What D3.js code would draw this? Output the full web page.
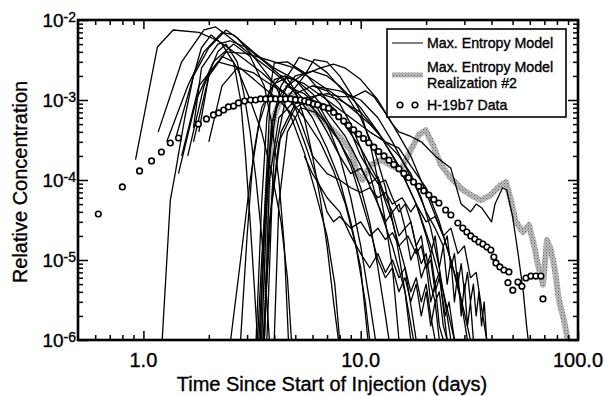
<!DOCTYPE html>
<html><head><meta charset="utf-8">
<script src="https://cdn.jsdelivr.net/npm/d3@7"></script>
<style>body{margin:0;background:#fff} text{font-family:"Liberation Sans",Arial,Helvetica,sans-serif;fill:#000;stroke:#000;stroke-width:0.35px}</style>
</head><body><svg id="c" width="604" height="396"></svg>
<script>
// H-19b7 measured data
const dataT = [0.62,0.80,0.96,1.09,1.21,1.33,1.45,1.79,1.95,2.10,2.22,2.34,2.46,2.60,2.74,2.92,3.11,3.28,3.46,3.65,3.85,4.06,4.28,4.51,4.76,5.01,5.29,5.52,5.76,6.07,6.34,6.75,7.12,7.51,7.92,8.35,8.80,9.28,9.79,10.3,10.9,11.5,12.1,12.8,13.5,14.2,15.0,15.8,16.6,17.5,18.5,19.5,20.6,21.7,22.9,24.6,26.0,28.0,29.5,30.8,32.1,33.5,35.0,36.5,38.1,39.7,41.0,41.9,43.7,45.6,48.1,47.6,50.1,52.9,55.2,57.6,60.7,64.0,67.5,69.0];
const dataC = [3.76e-5,8.2e-5,1.30e-4,1.73e-4,2.24e-4,2.9e-4,3.35e-4,5.0e-4,5.8e-4,6.5e-4,6.9e-4,7.5e-4,8.2e-4,8.4e-4,9.2e-4,9.7e-4,1.0e-3,1.0e-3,1.03e-3,1.03e-3,1.03e-3,1.03e-3,1.03e-3,1.03e-3,1.03e-3,1.01e-3,1.0e-3,9.7e-4,9.4e-4,8.9e-4,8.7e-4,8.2e-4,7.9e-4,7.0e-4,6.18e-4,5.45e-4,4.81e-4,4.24e-4,3.75e-4,3.30e-4,2.92e-4,2.57e-4,2.27e-4,2.00e-4,1.77e-4,1.56e-4,1.38e-4,1.21e-4,1.07e-4,9.44e-5,8.34e-5,7.35e-5,6.49e-5,5.72e-5,5.16e-5,4.22e-5,3.65e-5,2.90e-5,2.51e-5,2.24e-5,2.0e-5,1.83e-5,1.68e-5,1.58e-5,1.45e-5,1.33e-5,1.09e-5,9.2e-6,8.2e-6,7.5e-6,7.1e-6,5.2e-6,4.2e-6,5.3e-6,4.7e-6,5.96e-6,6.3e-6,6.3e-6,6.3e-6,3.26e-6];

// Max. Entropy Model, Realization #2 (gray band)
const realT = [3.53,3.61,3.73,3.85,4.01,4.28,4.76,5.29,5.88,6.54,7.27,8.09,8.99,9.69,10.2,11.1,12.4,13.7,15.3,17.0,18.5,19.9,21.5,23.4,26.0,28.9,32.1,35.7,39.7,44.2,46.6,49.1,51.8,55.8,59.5,62.7,65.4,69.0,72.0,75.1,78.3,81.7,86.1,89.9];
const realC = [1e-6,1e-5,7.5e-5,3.16e-4,6.5e-4,1e-3,1.15e-3,1e-3,7.9e-4,5.96e-4,4.47e-4,3.35e-4,2.37e-4,1.15e-4,1e-4,1.54e-4,1.78e-4,1.54e-4,1.33e-4,2.37e-4,3.65e-4,4.2e-4,2.74e-4,1.54e-4,1.06e-4,7.9e-5,6.5e-5,5.6e-5,6.5e-5,8.7e-5,9.4e-5,5.6e-5,3.0e-5,2.24e-5,2.74e-5,1.54e-5,8.7e-6,4.9e-6,1.78e-5,1.33e-5,7.5e-6,3.16e-6,1.78e-6,1e-6];

// Max. Entropy Model realizations: [time (days), relative concentration]
const run01 = [[0.92,1.8e-4],[1.16,4.6e-3],[1.37,7.5e-3],[1.8,7e-3],[2.2,5.5e-3],[2.8,3.5e-3],[3.5,2.2e-3],[4.5,1.2e-3],[5.5,6e-4],[6.5,3e-4],[7.5,1.3e-4],[8.5,5e-5],[9.5,1.5e-5],[10.5,3e-6],[11,1e-6]];
const run02 = [[1.17,4e-4],[1.5,3e-3],[1.9,7.5e-3],[2.15,8.2e-3],[2.5,6e-3],[3,4e-3],[4,2.2e-3],[5,1.3e-3],[6,8e-4],[7,5e-4],[8,3e-4],[9,1.7e-4],[10,8e-5],[11,3e-5],[12,8e-6],[13,2e-6],[13.5,1e-6]];
const run03 = [[1.28,3e-4],[1.6,1.5e-3],[1.9,4e-3],[2.3,7e-3],[2.6,6.5e-3],[3.2,4e-3],[4,2.5e-3],[5,1.8e-3],[6,1.2e-3],[7,7e-4],[8.5,3.5e-4],[10,1.5e-4],[12,5e-5],[14,1.5e-5],[16,4e-6],[17.5,1e-6]];
const run04 = [[1.42,3.6e-4],[1.7,2e-3],[2,4.5e-3],[2.4,7.5e-3],[2.7,6e-3],[3.3,3.2e-3],[4,1.6e-3],[4.8,6e-4],[5.5,2.2e-4],[6.2,7e-5],[7,2e-5],[7.6,5e-6],[8,1e-6]];
const run05 = [[1.7,4.5e-4],[1.85,2.5e-3],[2.2,5e-3],[2.5,5.5e-3],[3,4.5e-3],[3.6,3e-3],[4.3,2e-3],[5,1.2e-3],[6,6e-4],[7,2.5e-4],[8,1e-4],[9,3e-5],[10,8e-6],[10.8,1e-6]];
const run06 = [[1.45,1.2e-4],[1.75,1e-3],[2.1,3e-3],[2.6,5e-3],[3.1,3.5e-3],[3.6,1.5e-3],[3.9,5e-4],[4.2,1e-4],[4.45,1.5e-5],[4.65,1e-6]];
const run07 = [[1.6,2e-4],[1.9,1.5e-3],[2.2,4e-3],[2.4,5e-3],[2.7,3e-3],[2.9,1.2e-3],[3.1,4e-4],[3.3,1e-4],[3.5,2e-5],[3.7,3e-6],[3.8,1e-6]];
const run08 = [[1.22,1e-6],[1.33,5.6e-5],[1.4,1.2e-4],[1.55,6e-4],[1.7,2e-3],[1.85,4.5e-3],[2.05,6.5e-3],[2.3,5e-3],[2.7,2.5e-3],[3.1,1e-3],[3.5,4e-4],[3.9,1.2e-4],[4.3,3e-5],[4.6,6e-6],[4.8,1e-6]];
const run09 = [[1.8,4e-4],[2.0,2e-3],[2.3,3.5e-3],[2.6,3e-3],[2.8,1e-3],[2.95,2e-4],[3.1,3e-5],[3.25,4e-6],[3.35,1e-6]];
const run10 = [[3.35,1e-6],[3.5,1e-5],[3.7,1e-4],[3.9,5e-4],[4.3,1.2e-3],[5,2e-3],[6,2.3e-3],[7,2e-3],[8,1.5e-3],[10,8e-4],[12,4e-4],[15,1.5e-4],[18,5e-5],[21,1.5e-5],[24,4e-6],[27,1e-6]];
const run11 = [[3.4,1e-6],[3.6,2e-5],[3.8,2e-4],[4.1,8e-4],[4.6,1.5e-3],[5.3,2e-3],[6.5,2.5e-3],[7.5,2.8e-3],[8.5,2.5e-3],[10,1.8e-3],[12,1e-3],[14,5e-4],[17,2e-4],[20,7e-5],[24,2e-5],[28,5e-6],[32,1e-6]];
const run12 = [[3.45,1e-6],[3.6,3e-5],[3.75,3e-4],[3.85,1.5e-3],[4.0,2.9e-3],[4.6,3e-3],[5.5,2.2e-3],[6.5,1.3e-3],[8,6e-4],[10,2.5e-4],[12,1e-4],[14,3e-5],[16,8e-6],[18,1e-6]];
const run13 = [[3.5,1e-6],[3.7,5e-5],[3.9,5e-4],[4.3,1.5e-3],[4.9,2.6e-3],[5.2,3.4e-3],[6,3e-3],[7,2.2e-3],[8.5,1.2e-3],[10,6e-4],[11.5,2.5e-4],[13,8e-5],[14.5,2e-5],[16,4e-6],[17,1e-6]];
const run14 = [[3.3,1e-6],[3.5,5e-5],[3.7,6e-4],[4,1.8e-3],[4.5,2e-3],[5,1.3e-3],[5.5,6e-4],[6,2e-4],[6.5,6e-5],[7,1.5e-5],[7.5,3e-6],[7.9,1e-6]];
const run15 = [[3.55,1e-6],[3.75,1e-5],[4,2e-4],[4.5,1e-3],[5.5,2e-3],[6.1,3.2e-3],[7,3e-3],[8,2e-3],[9,1.2e-3],[10,7e-4],[11,3e-4],[12,1e-4],[13,3e-5],[14,8e-6],[15,1e-6]];
const run16 = [[2.52,1e-6],[2.8,1e-5],[3.1,1e-4],[3.4,5e-4],[3.8,1.3e-3],[4.3,2e-3],[5,1.8e-3],[6,1e-3],[7,5e-4],[8,2e-4],[9,6e-5],[10,1.5e-5],[11,3e-6],[11.7,1e-6]];
const run17 = [[3.6,1e-6],[3.8,1e-4],[4.2,6e-4],[5,1e-3],[6,1.1e-3],[7,1.2e-3],[8,1.1e-3],[9.3,1.1e-3],[10.5,1.3e-3],[11.5,1.1e-3],[12.5,8e-4],[14,5e-4],[15,4e-4],[17,3.5e-4],[19,3e-4],[22,2e-4],[26,1.4e-4],[29,5e-5],[32,4e-5],[34,5e-5],[36,4.5e-5],[40,3e-5],[41.5,5e-5],[45,8e-5],[47,7.5e-5],[50,3.5e-5],[53,1.2e-5],[56,4e-6],[58,1.5e-6],[59,1e-6]];
const run18 = [[1.5,2e-4],[1.8,1.5e-3],[2.2,3e-3],[2.8,2.5e-3],[3.5,1.5e-3],[4.2,1e-3],[5,6e-4],[5.5,3e-4],[6,1.5e-4],[6.5,8e-5],[7,4e-5],[7.5,3e-5],[8,3.5e-5],[9,2.5e-5],[10,3e-5],[11,2e-5],[12,2.5e-5],[13,1.8e-5],[14,2.2e-5],[15,1.5e-5],[16.5,2e-5],[18,1.2e-5],[19,1.5e-5],[20,8e-6],[21,1.2e-5],[22,5e-6],[23,7e-6],[24,2.5e-6],[25,1e-6]];
const run19 = [[2.0,3e-4],[2.3,1.5e-3],[2.7,2.5e-3],[3.2,2.2e-3],[3.8,1.6e-3],[4.5,1.2e-3],[5,8e-4],[5.5,4e-4],[6,2e-4],[7,1.2e-4],[8,1e-4],[9,8e-5],[10,7e-5],[11,8e-5],[12,6e-5],[13,7e-5],[14,5e-5],[15.5,6e-5],[17,4e-5],[18,5e-5],[20,3e-5],[22,3.5e-5],[24,2e-5],[26,2.5e-5],[28,1.2e-5],[30,1.5e-5],[32,6e-6],[34,7e-6],[36,2.5e-6],[38,1e-6]];
const run20 = [[4.5,1.5e-3],[5.5,1.2e-3],[6.5,8e-4],[8,3e-4],[9,1.5e-4],[10,6e-5],[11,2.5e-5],[12,1e-5],[13,6e-6],[14,8e-6],[15,4e-6],[16,6e-6],[17,3e-6],[18,5e-6],[19,2e-6],[20,4e-6],[21,1.5e-6],[22,3e-6],[23,1e-6]];
const run21 = [[3.7,1e-6],[3.9,5e-5],[4.3,4e-4],[5,9e-4],[6,1e-3],[7.5,8e-4],[9,4e-4],[10,2e-4],[11,1.3e-4],[12,9e-5],[13,1e-4],[14,6e-5],[15,4e-5],[16,5e-5],[17,3e-5],[18,1.5e-5],[19,2e-5],[20,8e-6],[21,1e-5],[22,4e-6],[23,6e-6],[24.5,2e-6],[25.5,3e-6],[27,1e-6]];
const run22 = [[3.6,1e-6],[3.8,3e-5],[4.2,3e-4],[5,8e-4],[6.5,1.2e-3],[8,1e-3],[10,7e-4],[12,4e-4],[14,2e-4],[16,1e-4],[18,5e-5],[20,2e-5],[21,1.2e-5],[22,2e-5],[23,8e-6],[24,1.5e-5],[25,5e-6],[26,1e-5],[27,3e-6],[28,7e-6],[29,2e-6],[30,5e-6],[31,1.5e-6],[32,3e-6],[33,1e-6]];
const run23 = [[1.7,3e-4],[2,2e-3],[2.4,4e-3],[3,3.8e-3],[4,3e-3],[5,2.5e-3],[6,1.8e-3],[7.5,1.2e-3],[9,8e-4],[11,5e-4],[13,3e-4],[15,2e-4],[17,1.2e-4],[19,6e-5],[21,2.5e-5],[23,8e-6],[25,2e-6],[26,1e-6]];
const run24 = [[2.8,1e-6],[3.0,2e-5],[3.2,2e-4],[3.5,8e-4],[4,1.6e-3],[4.6,1.9e-3],[5.5,1.6e-3],[7,1e-3],[9,6e-4],[11,4e-4],[13,3e-4],[15,2.5e-4],[17,1.5e-4],[20,8e-5],[23,3e-5],[26,1e-5],[29,3e-6],[31,1e-6]];
const run25 = [[4,1e-6],[4.2,5e-5],[4.6,4e-4],[5.3,8e-4],[6.2,7e-4],[7,4e-4],[8,2e-4],[9,1.2e-4],[10,1.4e-4],[11,9e-5],[12,1.1e-4],[13,6e-5],[14,4e-5],[15,5e-5],[16,2.5e-5],[17,3e-5],[18,1.5e-5],[19,9e-6],[20,1.2e-5],[21,5e-6],[22,3e-6],[23,4e-6],[24,1.5e-6],[25,1e-6]];
const run26 = [[6,1.5e-3],[8,1.3e-3],[10,1e-3],[12,6e-4],[14,3e-4],[16,1.5e-4],[18,8e-5],[20,4e-5],[22,2.5e-5],[24,1.5e-5],[25,2e-5],[26,8e-6],[27,1.2e-5],[28,5e-6],[29,9e-6],[30,4e-6],[31,7e-6],[32,3e-6],[33,5e-6],[34,2e-6],[35,4e-6],[36,1.5e-6],[37,3e-6],[38,1e-6]];
const run27 = [[5,1.2e-3],[6,1.5e-3],[7,1.3e-3],[8,9e-4],[9,5e-4],[10,2.5e-4],[11,1.2e-4],[12,5e-5],[13,3e-5],[14,4e-5],[15,2e-5],[16,2.5e-5],[17,1e-5],[18,1.4e-5],[19,6e-6],[20,9e-6],[21,3e-6],[22,5e-6],[23,1.5e-6],[24,1e-6]];
const run28 = [[5.5,2e-4],[6,1.2e-4],[7,6e-5],[8,4e-5],[9,2e-5],[10,1.2e-5],[11,8e-6],[12,1.2e-5],[13,7e-6],[14,1e-5],[15,6e-6],[16,8e-6],[17,4e-6],[18,6e-6],[19,3e-6],[20,5e-6],[21,2e-6],[22,1e-6]];
const modelRuns = [run01,run02,run03,run04,run05,run06,run07,run08,run09,run10,run11,run12,run13,run14,run15,run16,run17,run18,run19,run20,run21,run22,run23,run24,run25,run26,run27,run28];

// Axis ticks / labels
const xMajor = [1, 10, 100];
const xMajorLabels = ["1.0", "10.0", "100.0"];
const yMajor = [1e-6, 1e-5, 1e-4, 1e-3, 1e-2];
const yMajorExp = ["-6", "-5", "-4", "-3", "-2"];
const legendLabels = ["Max. Entropy Model", "Max. Entropy Model", "Realization #2", "H-19b7 Data"];
const xTitle = "Time Since Start of Injection (days)";
const yTitle = "Relative Concentration";

const svg = d3.select("#c");
const L = 78, R = 578, T = 20, B = 340;
const x = d3.scaleLog().domain([0.5, 100]).range([L, R]);
const y = d3.scaleLog().domain([1e-6, 1e-2]).range([B, T]);

const xMinor = [], yMinor = [];
[0.1, 1, 10].forEach(d => { for (let m = 2; m <= 9; m++) { const v = m * d; if (v > 0.5 && v < 100) xMinor.push(v); } });
[1e-6, 1e-5, 1e-4, 1e-3].forEach(d => { for (let m = 2; m <= 9; m++) yMinor.push(m * d); });

const defs = svg.append("defs");
defs.append("clipPath").attr("id", "clip")
  .append("rect").attr("x", L).attr("y", T).attr("width", R - L).attr("height", B - T);
const pat = defs.append("pattern").attr("id", "stip").attr("patternUnits", "userSpaceOnUse")
  .attr("width", 3).attr("height", 3);
pat.append("rect").attr("width", 3).attr("height", 3).attr("fill", "#c4c4c4");
pat.append("rect").attr("x", 0).attr("y", 0).attr("width", 1.2).attr("height", 1.2).attr("fill", "#6a6a6a");
pat.append("rect").attr("x", 1.5).attr("y", 1.5).attr("width", 1.2).attr("height", 1.2).attr("fill", "#888");

const plot = svg.append("g").attr("clip-path", "url(#clip)");
const line = d3.line().x(d => x(d[0])).y(d => y(d[1]));

// gray realization band
plot.append("path").datum(realT.map((t, i) => [t, realC[i]]))
  .attr("d", line).attr("fill", "none").attr("stroke", "url(#stip)")
  .attr("stroke-width", 6).attr("stroke-linejoin", "round");

// model runs
plot.selectAll("path.run").data(modelRuns).join("path").attr("class", "run")
  .attr("d", line).attr("fill", "none").attr("stroke", "#000")
  .attr("stroke-width", 1.3).attr("stroke-linejoin", "round");

// data circles
plot.selectAll("circle.obs").data(dataT.map((t, i) => [t, dataC[i]])).join("circle")
  .attr("class", "obs").attr("cx", d => x(d[0])).attr("cy", d => y(d[1])).attr("r", 2.8)
  .attr("fill", "#fff").attr("stroke", "#000").attr("stroke-width", 1.6);

// axes ticks (inward)
function ticks(gen, tr, vals, size) {
  const g = svg.append("g").attr("transform", tr).call(gen.tickValues(vals).tickSize(size).tickFormat(""));
  g.select(".domain").remove();
  g.selectAll("line").attr("stroke", "#000").attr("stroke-width", 1.5);
}
ticks(d3.axisBottom(x), `translate(0,${B})`, xMinor, -5);
ticks(d3.axisBottom(x), `translate(0,${B})`, xMajor, -9);
ticks(d3.axisTop(x), `translate(0,${T})`, xMinor, -5);
ticks(d3.axisTop(x), `translate(0,${T})`, xMajor, -9);
ticks(d3.axisLeft(y), `translate(${L},0)`, yMinor, -5);
ticks(d3.axisLeft(y), `translate(${L},0)`, yMajor, -10);
ticks(d3.axisRight(y), `translate(${R},0)`, yMinor, -5);
ticks(d3.axisRight(y), `translate(${R},0)`, yMajor, -10);

// frame
svg.append("rect").attr("x", L).attr("y", T).attr("width", R - L).attr("height", B - T)
  .attr("fill", "none").attr("stroke", "#000").attr("stroke-width", 2.6);

// tick labels
svg.selectAll("text.xl").data(xMajor).join("text").attr("class", "xl")
  .attr("x", d => x(d)).attr("y", 367).attr("text-anchor", "middle")
  .attr("font-size", 20).text((d, i) => xMajorLabels[i]);
const yl = svg.selectAll("text.yl").data(yMajor).join("text").attr("class", "yl")
  .attr("x", 76).attr("y", d => y(d) + 7).attr("text-anchor", "end").attr("font-size", 19);
yl.append("tspan").text("10");
yl.append("tspan").attr("dy", -5).attr("font-size", 14).text((d, i) => yMajorExp[i]);

// axis titles
svg.append("text").attr("x", 332).attr("y", 391).attr("text-anchor", "middle")
  .attr("font-size", 20).text(xTitle);
svg.append("text").attr("transform", "translate(27,182) rotate(-90)").attr("text-anchor", "middle")
  .attr("font-size", 20).text(yTitle);

// legend
const lg = svg.append("g");
lg.append("rect").attr("x", 387).attr("y", 29).attr("width", 179).attr("height", 88)
  .attr("fill", "#fff").attr("stroke", "#000").attr("stroke-width", 1.6);
lg.append("line").attr("x1", 392).attr("x2", 423).attr("y1", 43).attr("y2", 43).attr("stroke", "#000").attr("stroke-width", 1);
lg.append("line").attr("x1", 392).attr("x2", 423).attr("y1", 75).attr("y2", 75).attr("stroke", "url(#stip)").attr("stroke-width", 5);
[400, 415].forEach(cx => lg.append("circle").attr("cx", cx).attr("cy", 105).attr("r", 2.8)
  .attr("fill", "#fff").attr("stroke", "#000").attr("stroke-width", 1.6));
const legY = [48, 71.5, 88, 110];
legendLabels.forEach((s, i) => lg.append("text").attr("x", 427).attr("y", legY[i])
  .attr("font-size", 14.2).text(s));
</script></body></html>
